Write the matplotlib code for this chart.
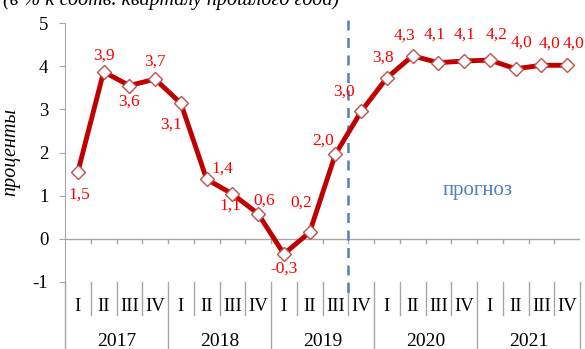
import matplotlib
matplotlib.use("Agg")
import matplotlib.pyplot as plt

plt.rcParams['font.family'] = ['Liberation Serif', 'DejaVu Serif']
plt.rcParams['axes.unicode_minus'] = False

years = ['2017', '2018', '2019', '2020', '2021']
quarters = ['I', 'II', 'III', 'IV']
values = [1.55, 3.87, 3.55, 3.70, 3.14, 1.38, 1.04, 0.58, -0.35, 0.15,
          1.96, 2.95, 3.73, 4.24, 4.08, 4.12, 4.14, 3.94, 4.02, 4.02]
value_labels = ['1,5', '3,9', '3,6', '3,7', '3,1', '1,4', '1,1', '0,6', '-0,3', '0,2',
                '2,0', '3,0', '3,8', '4,3', '4,1', '4,1', '4,2', '4,0', '4,0', '4,0']
forecast_from = 11  # first forecast quarter (IV 2019)

# label offsets in pixels (dx, dy)
offsets = [(1, -23), (0, 16), (0, -16), (0, 17), (-10, -21), (16, 11), (-2, -12),
           (6, 13), (0, -15), (-8, 30), (-12, 14), (-17, 20), (-4, 20), (-8, 20),
           (-4, 28), (0, 26), (7, 25), (6, 26), (8, 22), (6, 22)]

W, H = 585, 349
fig = plt.figure(figsize=(W / 100, H / 100), dpi=100)
ax = fig.add_axes([65 / W, (H - 282) / H, (580 - 65) / W, (282 - 23) / H])

n = len(values)
x = list(range(n))
gray = '#A6A6A6'

ax.set_xlim(-0.5, n - 0.5)
ax.set_ylim(-1, 5)
ax.set_yticks(range(-1, 6))
ax.tick_params(axis='y', direction='out', length=4, color=gray, labelsize=13.5, pad=8)
ax.set_xticks([])
for s in ['top', 'right', 'bottom']:
    ax.spines[s].set_visible(False)
ax.spines['left'].set_color(gray)

ybot = -1 - 67 / 43.2
ax.plot([-0.5, -0.5], [-1, ybot], color=gray, lw=1, clip_on=False)
ax.axhline(0, color=gray, lw=1)

# category axis pieces
for k in range(1, n):
    b = k - 0.5
    ax.plot([b, b], [0, -0.09], color=gray, lw=1)
    if k % 4 == 0:
        ax.plot([b, b], [-1, ybot], color=gray, lw=1, clip_on=False)
    else:
        ax.plot([b, b], [-1, -1.76], color=gray, lw=1, clip_on=False)
ax.plot([n - 0.5, n - 0.5], [-1, ybot], color=gray, lw=1, clip_on=False)

for i in range(n):
    ax.text(i, -1.56, quarters[i % 4], ha='center', va='center', fontsize=13.5, clip_on=False)
for j, yr in enumerate(years):
    ax.text(4 * j + 1.5, -2.37, yr, ha='center', va='center', fontsize=14, clip_on=False)

# forecast divider
ax.plot([forecast_from - 0.5] * 2, [5.07, -1.25], color='#4F81BD', lw=1.8,
        dashes=(4, 3), clip_on=False)
ax.text(15.54, 1.13, 'прогноз', color='#4F81BD', fontsize=15, ha='center', va='center')

ax.plot(x, values, color='#C00000', lw=3.5, marker='D', ms=7.5,
        mfc='white', mec='#C0504D', mew=1, zorder=3)

for i in range(n):
    dx, dy = offsets[i]
    ax.annotate(value_labels[i], (x[i], values[i]), xytext=(dx * 0.72, dy * 0.72),
                textcoords='offset points', ha='center', va='center',
                color='red', fontsize=12.5, annotation_clip=False)

ax.set_ylabel('проценты', fontstyle='italic', fontsize=14.5)
ax.yaxis.set_label_coords(-(65 - 20) / (580 - 65), (282 - 152) / (282 - 23))

fig.text(0.005, 1 - 5 / H, '(в % к соотв. кварталу прошлого года)',
         fontstyle='italic', fontsize=14.5, ha='left', va='baseline')

fig.savefig('out.png', dpi=100)
